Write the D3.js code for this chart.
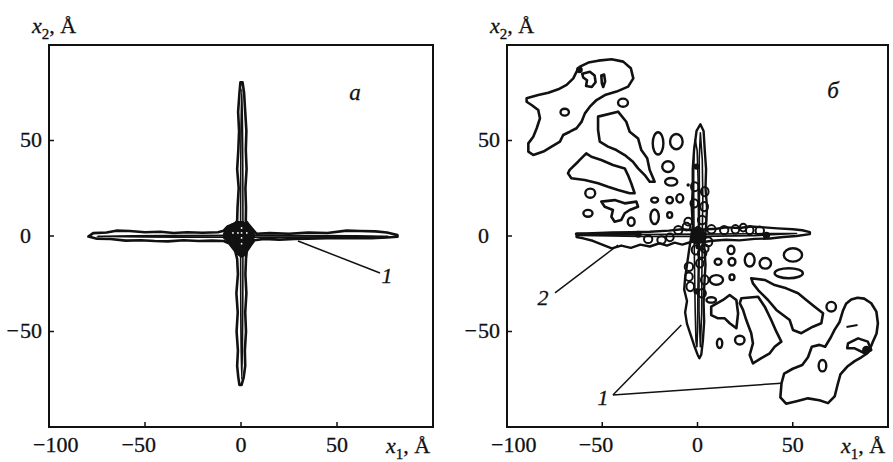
<!DOCTYPE html>
<html>
<head>
<meta charset="utf-8">
<script src="https://cdn.jsdelivr.net/npm/d3@7"></script>
<style>
  html, body { margin: 0; padding: 0; background: #fff; }
  svg text { font-family: "Liberation Serif", "Times New Roman", Times, serif; fill: #111; stroke: #111; stroke-width: 0.3px; }
</style>
</head>
<body>
<svg id="chart" width="893" height="462" font-family="Liberation Serif, Times New Roman, serif"></svg>
<script>
// ---------- axes ----------
const axisDomain = [-100, 100];
const xTickLabels = [-100, -50, 0, 50];
const yTickLabels = [-50, 0, 50];
const tickMarks = [-50, 0, 50];

// ---------- panel a : cross-shaped contour ----------
const crossOutlineA = [
  [-79.5, -0.3], [-77, 1.5], [-70, 1.8], [-65, 2.8], [-58, 2.6], [-50, 2.0], [-42, 2.2],
  [-35, 1.6], [-28, 2.0], [-20, 1.7], [-12, 2.0], [-9, 2.8], [-7, 5], [-3, 6.5], [-2, 8],
  [-1.8, 15], [-1.2, 25], [-2.0, 35], [-1.4, 45], [-1.0, 55], [-1.5, 65], [-0.8, 75],
  [-0.3, 80.5], [0.8, 80.5], [1.6, 75], [2.2, 65], [2.8, 55], [2.5, 45], [2.9, 35],
  [2.3, 25], [2.6, 15], [2.5, 8], [4, 6], [6.5, 3], [8, 1.2], [15, 1.5], [25, 1.2],
  [35, 1.8], [45, 1.6], [55, 2.8], [62, 2.6], [70, 2.4], [76, 1.8], [81.5, 0.5],
  [81.5, -0.4], [76, -0.8], [68, -1.2], [58, -1.0], [45, -1.2], [35, -1.4], [28, -1.6],
  [20, -1.9], [12, -1.5], [7, -2.2], [5, -5], [3, -8], [2.6, -12], [2.3, -20], [2.8, -30],
  [2.2, -40], [2.6, -50], [2.0, -60], [2.2, -68], [1.4, -74], [0.3, -78], [-0.8, -78],
  [-1.4, -74], [-2.0, -68], [-1.6, -60], [-2.3, -50], [-1.7, -40], [-2.4, -30], [-1.6, -20],
  [-2.0, -12], [-3, -8], [-6, -4], [-9, -2.6], [-15, -2.4], [-22, -2.6], [-30, -2.2],
  [-38, -2.8], [-45, -2.6], [-52, -2.2], [-60, -2.4], [-68, -1.6], [-75, -1.4]
];
// inner contours along each arm: [cx, cy, rx, ry]
const crossInnerA = [
  [1, -0.1, 76, 0.5],
  [0.4, 1, 0.6, 76]
];
const coreA = [
  [-9, 1], [-8, 4], [-5, 6], [-2, 7.5], [1, 7.5], [4, 6], [6.5, 3], [7, 0], [6, -3],
  [3.5, -6], [2.5, -10], [0, -11], [-2.5, -9], [-4, -5], [-7, -3], [-9, -1]
];
const coreDotsA = [[0.3, 4.2], [0.3, 1.6], [0.3, -1.0], [-4.2, 1.6], [-1.6, 1.6], [3, 1.6], [0.3, -4]];

// ---------- panel б : contours ----------
const islandTL = [
  [-89.7, 72.1], [-83.6, 73.8], [-78.3, 75], [-73.1, 76.8], [-68.7, 79.1], [-65.2, 82.5],
  [-63.5, 86], [-61.7, 88.7], [-57.3, 90.8], [-52.1, 91.8], [-45.1, 92.5], [-39, 91.3],
  [-35, 87.8], [-33.7, 82.5], [-36.4, 78.2], [-42.5, 75.6], [-48.6, 73.8], [-53, 71.2],
  [-56.5, 67.7], [-59.1, 64.2], [-60.8, 59.9], [-63.5, 56.4], [-67, 54.6], [-70.5, 52.9],
  [-72.2, 49.4], [-76.6, 46.8], [-80.9, 44.2], [-86.2, 42.4], [-88.8, 44.2], [-88.8, 48.5],
  [-86.2, 52], [-84.4, 56.4], [-82.7, 61.6], [-83.6, 66], [-87.1, 68.6], [-89.7, 70.3]
];
const islandTLInner = [
  [-60.5, 85], [-56.5, 86], [-54, 84], [-53.5, 80.5], [-55.5, 78], [-58.5, 78.5],
  [-58, 81.5], [-60, 83]
];
const islandTLHook = [[-50.5, 84], [-49, 84.5], [-48.5, 81], [-49.5, 78], [-50.2, 80]];

const wedgeUpper = [
  [-52.2, 62.5], [-41.7, 65.1], [-37.4, 59.8], [-35.6, 54.6], [-31.2, 51.1], [-29.5, 45],
  [-26.4, 40.7], [-25.1, 34.6], [-22.5, 28.4], [-25.1, 28.4], [-27.7, 31.9], [-31.2, 35.4],
  [-33.9, 38.9], [-38.2, 42.4], [-42.6, 45], [-47, 46.8], [-51.3, 49.4], [-52.2, 55.5]
];
const wedgeLeft = [
  [-67.1, 34.6], [-62.7, 38.9], [-58.4, 43.3], [-55.7, 41.5], [-50.5, 39.8], [-44.4, 37.2],
  [-38.2, 35.4], [-36.5, 31.9], [-34.8, 27.6], [-33, 22.4], [-35.6, 22.4], [-41.7, 24.1],
  [-47, 25.8], [-52.2, 27.6], [-59.2, 29.3], [-66.2, 30.2], [-68, 32.8]
];
const patchLeft = [
  [-50.5, 18], [-43.5, 18.8], [-38.2, 17.1], [-32.1, 18], [-31.2, 15.3], [-35.6, 13.6],
  [-38.2, 11.9], [-40, 8.4], [-43.5, 7.5], [-45.2, 10.1], [-44.4, 13.6], [-48.7, 15.3]
];
const patchRight = [
  [7.2, -37], [13.4, -33.5], [16.9, -30.9], [20.4, -33.5], [21.3, -40.5], [20.4, -48.3],
  [16.9, -45.7], [14.3, -43.1], [10.8, -43.1], [7.2, -41.4]
];
const wedgeLower = [
  [23, -32.6], [31.8, -31.8], [35.3, -37], [38.7, -44], [41.4, -50.1], [44, -55.3],
  [40.5, -58], [37.9, -61.4], [33.5, -64], [29.1, -66.7], [27.4, -62.3], [29.1, -56.2],
  [28.2, -50.9], [25.6, -44], [23.9, -38.7], [22.2, -35.2]
];
const wedgeRight = [
  [28.2, -22.1], [35.3, -23], [40.5, -25.7], [46.6, -27.4], [52.8, -30], [57.1, -33.5],
  [61.5, -37], [65.9, -40.5], [65, -45.7], [60.6, -47.5], [54.5, -50.9], [50.1, -49.2],
  [48.4, -44], [44.9, -41.4], [41.4, -38.7], [37, -33.5], [31.8, -28.3], [29.1, -24.8]
];
const islandBR = [
  [44.1, -77.1], [45.5, -72], [50, -69.5], [55, -67.5], [58, -63.5], [60, -58], [64, -57],
  [67, -58], [70, -53], [72, -49], [74.6, -45], [76.4, -39], [78, -35.5], [80.7, -33.2],
  [84, -32.3], [87.5, -32.8], [91.2, -35.2], [93.9, -39.6], [94.7, -45.7], [94, -51],
  [92, -55.5], [91, -58], [89, -61.5], [86, -63.5], [82.5, -65.5], [78.5, -68.5], [75, -72.5],
  [73.5, -78], [72, -84], [68.5, -87.5], [64, -86], [58, -85], [52, -86.5], [46.5, -87.8],
  [43.5, -84.5]
];
const islandBRInner = [
  [79, -56.2], [84.3, -53.6], [89.4, -55.3], [91.2, -59.7], [87.8, -61.4], [82.5, -58.8], [78.6, -58.8]
];
const islandBRMark = [[78.2, -47.6], [84, -46.6]];

// small closed contours: [cx, cy, rx, ry]
const loopsB = [
  [-69.7, 64.8, 2.2, 1.8], [-39.1, 69.8, 2.6, 2.1], [-20.7, 48.5, 2.8, 5.8], [-11.1, 49.4, 3.3, 4],
  [-15.5, 36.3, 3, 2.8], [-13.8, 28.4, 3.2, 2], [-56.3, 22.4, 2.6, 2.4], [-57.5, 11.9, 2.4, 1.8],
  [-34.8, 7.5, 1.8, 2.2], [-22.5, 18.8, 1.8, 1.3], [-22.5, 10.1, 2.2, 3.8], [-14.6, 18.8, 1.7, 1.7],
  [-9.3, 19.7, 1.8, 2.2], [-14.6, 11, 1.3, 1.5],
  [10.8, -13.5, 1.8, 1.6], [17.6, -7.3, 1.8, 2.2], [18.1, -13.5, 1.8, 2], [27.4, -12.6, 2.6, 3.4],
  [35.6, -14.3, 3, 2.8], [50.1, -9.9, 4.8, 3.5], [47.9, -19.5, 7.4, 2.6], [9.9, -23, 3.5, 2.5],
  [18.1, -21.6, 1.3, 1.5], [7.2, -33.5, 2.5, 1.4], [70.2, -37, 2.5, 2.5], [11.6, -56.2, 1.4, 2.4],
  [22.2, -54.5, 2.5, 2.3], [65.6, -67.9, 2, 3]
];
// loops strung along the two arms
const beadsB = [
  [-10.1, 3.1, 2.2, 2.2], [-5.8, 4.9, 2, 2], [7.3, 3.5, 2.2, 2.2], [14, 3.1, 2.2, 2.2],
  [19.9, 3.5, 2, 2.2], [24, 4.4, 1.8, 2], [27.4, 3.1, 2, 2.2], [32.7, 2.8, 2.2, 2.2],
  [-25.9, -1.7, 2.2, 2], [-18.9, -2.1, 2.2, 2], [-14.5, -0.7, 2, 2], [5.6, -3, 2.2, 2.4],
  [3.8, -6.5, 2, 2.2], [-1.4, 25.8, 2, 2.4], [3.8, 23.2, 2, 2.4], [-1.7, 17.1, 2, 2.2],
  [3.5, 15.4, 2, 2.4], [2.4, 8.4, 2.2, 2.2], [-4.9, 7.5, 2, 2], [-1, -7.3, 2, 2.4],
  [2.4, -9.1, 2.2, 2.4], [1.2, -14.3, 2, 2.2], [-4.5, -16.1, 2.2, 2.2], [-4.5, -21.3, 2, 2.2],
  [-3.8, -26.5, 2, 2.4], [3.8, -23, 2, 2.4], [2.4, -30, 2, 2.2]
];
const armVerticalB = [
  [1.5, 58.5], [3.2, 55], [3.8, 45], [4.5, 35], [4.2, 25], [5, 15], [4.5, 5], [3.5, -5],
  [4.2, -15], [3.6, -25], [3.2, -35], [3.5, -45], [2.8, -55], [2, -62], [1, -64], [0, -62],
  [-1.5, -58], [-3.5, -52], [-5.5, -46], [-6.5, -40], [-5.5, -34], [-7, -28], [-6.5, -22],
  [-5.5, -15], [-4.5, -8], [-2.5, 5], [-3, 15], [-2.5, 25], [-2.5, 35], [-1.8, 45], [-0.5, 55]
];
const armVerticalInnerB = [
  [-1.2, 50.5], [-0.2, 45], [0.3, 30], [0.5, 10], [0.5, -10], [0.2, -30], [0, -50], [-0.3, -58],
  [-0.8, -55], [-1.2, -40], [-1.5, -20], [-1.8, 0], [-2, 20], [-2, 35], [-1.8, 45]
];
const armVerticalInner2B = [
  [1.5, 54], [2.5, 40], [2.8, 20], [2.5, 0], [2.3, -20], [2.2, -40], [1.5, -58], [0.8, -40],
  [0.8, -20], [1, 0], [1, 20], [0.9, 40]
];
const armHorizontalB = [
  [-63.5, 0], [-55, 1.5], [-45, 1.8], [-35, 2], [-25, 2.2], [-15, 2.8], [-8, 3.5], [-3, 3],
  [5, 3.5], [10, 3.8], [15, 4.5], [22, 4.2], [28, 5], [35, 4.5], [42, 4], [50, 3.5], [55, 3],
  [59, 2], [59, 1], [52, 0], [45, -0.5], [38, -1.3], [30, -1.5], [22, -2.3], [15, -2],
  [8, -2.5], [4, -3], [-3, -3], [-8, -4.5], [-12, -3.5], [-16, -5], [-20, -3.8], [-25, -5.5],
  [-30, -4.5], [-35, -6.2], [-40, -5], [-45, -6.5], [-50, -4.5], [-55, -2.5], [-60, -1.2],
  [-63.5, -0.5]
];
const armHorizontalInnerB = [
  [-61, 0.3], [-30, 0.8], [0, 1], [30, 1.2], [52, 1.3], [30, 0.2], [0, -0.2], [-30, -0.3]
];
const ridgeB = [[-63.5, 1.0], [-45, 1.2], [-30.5, 1.0]];
const coreB = [[-3, 3], [0, 5], [3, 3.5], [4, 0], [2.5, -3], [0, -4.5], [-3, -2.5]];
// dense maxima: [cx, cy, r]
const spotsB = [
  [-0.5, 36.3, 1.6], [-0.5, -29, 1.6], [-31.1, 0.9, 1.8], [36.2, 0.3, 1.9], [-62, 87, 1.8],
  [88.6, -59.7, 2.2], [-4.9, 26.7, 0.9], [0.3, -5.6, 1.4]
];

// ---------- annotations ----------
const panelLetters = ["a", "б"];
const letterPos = [[59.4, 71.2], [71.1, 72.3]];
const calloutA = { text: "1", at: [76, -24.6], from: [72.4, -19.4], to: [[29.7, -2.6]] };
const calloutB2 = { text: "2", at: [-81.1, -36.1], from: [-74.8, -29.8], to: [[-41.7, -4.7]] };
const calloutB1 = { text: "1", at: [-49.6, -88.5], from: [-44.4, -83.2], to: [[-8.5, -46.6], [44, -77.1]] };

// ---------- drawing ----------
const svg = d3.select("#chart");
svg.append("rect").attr("width", 893).attr("height", 462).attr("fill", "#fff");

function makePanel(box) {
  const x = d3.scaleLinear().domain(axisDomain).range([box.left, box.right]);
  const y = d3.scaleLinear().domain(axisDomain).range([box.bottom, box.top]);
  const g = svg.append("g");
  const closed = d3.line().x(d => x(d[0])).y(d => y(d[1])).curve(d3.curveLinearClosed);
  const open = d3.line().x(d => x(d[0])).y(d => y(d[1]));
  const sx = v => Math.abs(x(v) - x(0));
  const sy = v => Math.abs(y(v) - y(0));
  return { box, x, y, g, closed, open, sx, sy };
}

function contour(p, pts, w) {
  p.g.append("path").attr("d", p.closed(pts)).attr("fill", "none")
    .attr("stroke", "#111").attr("stroke-width", w).attr("stroke-linejoin", "round");
}
function filled(p, pts) {
  p.g.append("path").attr("d", p.closed(pts)).attr("fill", "#111")
    .attr("stroke", "#111").attr("stroke-width", 1.5).attr("stroke-linejoin", "round");
}
function loops(p, list, w) {
  p.g.selectAll(null).data(list).join("ellipse")
    .attr("cx", d => p.x(d[0])).attr("cy", d => p.y(d[1]))
    .attr("rx", d => p.sx(d[2])).attr("ry", d => p.sy(d[3]))
    .attr("fill", "none").attr("stroke", "#111").attr("stroke-width", w);
}
function spots(p, list) {
  p.g.selectAll(null).data(list).join("ellipse")
    .attr("cx", d => p.x(d[0])).attr("cy", d => p.y(d[1]))
    .attr("rx", d => p.sx(d[2])).attr("ry", d => p.sy(d[2]))
    .attr("fill", "#111");
}

function frame(p, letterIdx) {
  const { box, x, y, g } = p;
  g.append("rect").attr("x", box.left).attr("y", box.top)
    .attr("width", box.right - box.left).attr("height", box.bottom - box.top)
    .attr("fill", "none").attr("stroke", "#111").attr("stroke-width", 2);

  // inward tick marks
  g.selectAll(null).data(tickMarks).join("line")
    .attr("x1", d => x(d)).attr("x2", d => x(d))
    .attr("y1", box.bottom).attr("y2", box.bottom - 5)
    .attr("stroke", "#111").attr("stroke-width", 1.5);
  g.selectAll(null).data(tickMarks).join("line")
    .attr("y1", d => y(d)).attr("y2", d => y(d))
    .attr("x1", box.left).attr("x2", box.left + 5)
    .attr("stroke", "#111").attr("stroke-width", 1.5);

  // x tick labels: digits centred on the tick, minus hanging to the left
  xTickLabels.forEach(v => {
    const label = (v < 0 ? "\u2212" : "") + Math.abs(v);
    const t = g.append("text").attr("font-size", 22).attr("y", 452).text(label);
    const full = t.node().getComputedTextLength();
    const tmp = g.append("text").attr("font-size", 22).text(String(Math.abs(v)));
    const digits = tmp.node().getComputedTextLength();
    tmp.remove();
    let start = x(v) - digits / 2 - (full - digits);
    start = Math.max(start, box.left - 16);
    t.attr("x", start);
  });

  // y tick labels: digits left-aligned, minus hanging to the left
  const yx = box.left - 29;
  yTickLabels.forEach(v => {
    g.append("text").attr("font-size", 22).attr("x", yx).attr("y", y(v) - 1)
      .attr("dominant-baseline", "central").text(String(Math.abs(v)));
    if (v < 0) {
      g.append("text").attr("font-size", 22).attr("x", yx - 1).attr("y", y(v) - 1)
        .attr("dominant-baseline", "central").attr("text-anchor", "end").text("\u2212");
    }
  });

  // axis titles
  const yt = g.append("text").attr("font-size", 22).attr("x", box.left - 17).attr("y", 33);
  yt.append("tspan").attr("font-style", "italic").text("x");
  yt.append("tspan").attr("font-size", 15).attr("dy", 6).text("2");
  yt.append("tspan").attr("dy", -6).text(", \u00C5");

  const xt = g.append("text").attr("font-size", 22).attr("x", box.right - 47).attr("y", 453);
  xt.append("tspan").attr("font-style", "italic").text("x");
  xt.append("tspan").attr("font-size", 15).attr("dy", 6).text("1");
  xt.append("tspan").attr("dy", -6).text(", \u00C5");

  // panel letter
  const lp = letterPos[letterIdx];
  g.append("text").attr("font-size", 23).attr("font-style", "italic")
    .attr("text-anchor", "middle").attr("x", x(lp[0])).attr("y", y(lp[1]))
    .text(panelLetters[letterIdx]);
}

function callout(p, c) {
  c.to.forEach(t => {
    p.g.append("path").attr("d", p.open([c.from, t])).attr("fill", "none")
      .attr("stroke", "#111").attr("stroke-width", 1.5);
  });
  p.g.append("text").attr("font-size", 22).attr("font-style", "italic")
    .attr("text-anchor", "middle").attr("x", p.x(c.at[0])).attr("y", p.y(c.at[1]))
    .text(c.text);
}

// panel a
const pa = makePanel({ left: 49, right: 433, top: 45, bottom: 427 });
contour(pa, crossOutlineA, 2.6);
loops(pa, crossInnerA, 1.6);
filled(pa, coreA);
pa.g.selectAll(null).data(coreDotsA).join("circle")
  .attr("cx", d => pa.x(d[0])).attr("cy", d => pa.y(d[1])).attr("r", 0.9).attr("fill", "#fff");
callout(pa, calloutA);
frame(pa, 0);

// panel б
const pb = makePanel({ left: 507, right: 888, top: 45, bottom: 427 });
[islandTL, wedgeUpper, wedgeLeft, patchLeft, patchRight, wedgeLower, wedgeRight, islandBR,
 islandTLInner, islandTLHook, islandBRInner].forEach(c => contour(pb, c, 2.6));
pb.g.append("path").attr("d", pb.open(islandBRMark)).attr("fill", "none")
  .attr("stroke", "#111").attr("stroke-width", 2);
loops(pb, loopsB, 2.4);
contour(pb, armVerticalB, 2.4);
contour(pb, armHorizontalB, 2.4);
contour(pb, armVerticalInnerB, 1.6);
contour(pb, armVerticalInner2B, 1.6);
contour(pb, armHorizontalInnerB, 1.6);
loops(pb, beadsB, 2);
pb.g.append("path").attr("d", pb.open(ridgeB)).attr("fill", "none")
  .attr("stroke", "#111").attr("stroke-width", 3.5).attr("stroke-linecap", "round");
filled(pb, coreB);
spots(pb, spotsB);
callout(pb, calloutB2);
callout(pb, calloutB1);
frame(pb, 1);
</script>
</body>
</html>
